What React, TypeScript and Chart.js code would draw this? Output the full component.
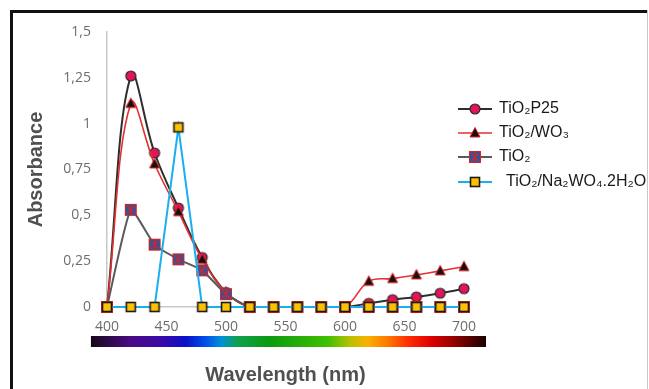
import React, { useEffect, useRef } from "react";
import { Chart, registerables } from "chart.js";

Chart.register(...registerables);

// ---------- data ----------
const WAVELENGTHS = [400, 420, 440, 460, 480, 500, 520, 540, 560, 580, 600, 620, 640, 660, 680, 700];
const TIO2_P25 = [0, 1.26, 0.84, 0.54, 0.27, 0.08, 0, 0, 0, 0, 0, 0.02, 0.04, 0.055, 0.075, 0.1];
const TIO2_WO3 = [0, 1.11, 0.78, 0.52, 0.26, 0.08, 0, 0, 0, 0, 0, 0.14, 0.155, 0.175, 0.197, 0.22];
const TIO2 = [0, 0.53, 0.34, 0.26, 0.2, 0.07, 0, 0, 0, 0, 0, 0, 0, 0, 0, 0];
const TIO2_NA2WO4 = [0, 0, 0, 0.98, 0, 0, 0, 0, 0, 0, 0, 0, 0, 0, 0, 0];

const SERIES_NAMES = ["TiO₂P25", "TiO₂/WO₃", "TiO₂", "TiO₂/Na₂WO₄.2H₂O"];
const X_TICK_VALUES = [400, 450, 500, 550, 600, 650, 700];
const Y_TICK_VALUES = [0, 0.25, 0.5, 0.75, 1, 1.25, 1.5];
const Y_TICK_LABELS = ["0", "0,25", "0,5", "0,75", "1", "1,25", "1,5"];
const X_TITLE = "Wavelength (nm)";
const Y_TITLE = "Absorbance";

// visible spectrum band under the axis (in nm)
const SPECTRUM_NM = [386.5, 718.5];
const SPECTRUM_STOPS: [number, string][] = [
  [0.0, "#150818"],
  [0.1, "#4b0a84"],
  [0.18, "#3a0aa8"],
  [0.24, "#0a10c8"],
  [0.29, "#0050e8"],
  [0.33, "#0090d8"],
  [0.37, "#10a050"],
  [0.45, "#0a9a10"],
  [0.6, "#40c000"],
  [0.66, "#c0c000"],
  [0.7, "#f8b000"],
  [0.75, "#ff7a00"],
  [0.8, "#ff3000"],
  [0.86, "#e00000"],
  [0.92, "#900000"],
  [1.0, "#1a0000"],
];

type MarkerKind = "circle" | "triangle" | "xsquare" | "square";

function drawMarker(ctx: CanvasRenderingContext2D, kind: MarkerKind, cx: number, cy: number) {
  ctx.save();
  if (kind === "circle") {
    ctx.beginPath();
    ctx.arc(cx, cy, 5, 0, Math.PI * 2);
    ctx.fillStyle = "#e3145a";
    ctx.fill();
    ctx.lineWidth = 1.2;
    ctx.strokeStyle = "#2a2a2a";
    ctx.stroke();
  } else if (kind === "triangle") {
    ctx.beginPath();
    ctx.moveTo(cx, cy - 5.5);
    ctx.lineTo(cx + 5, cy + 4);
    ctx.lineTo(cx - 5, cy + 4);
    ctx.closePath();
    ctx.fillStyle = "#111";
    ctx.fill();
    ctx.lineWidth = 1;
    ctx.strokeStyle = "#e02020";
    ctx.stroke();
  } else if (kind === "xsquare") {
    ctx.fillStyle = "#1f5aa8";
    ctx.fillRect(cx - 5.5, cy - 5.5, 11, 11);
    ctx.lineWidth = 1;
    ctx.strokeStyle = "#e02020";
    ctx.strokeRect(cx - 5.5, cy - 5.5, 11, 11);
    ctx.beginPath();
    ctx.moveTo(cx - 4, cy - 4);
    ctx.lineTo(cx + 4, cy + 4);
    ctx.moveTo(cx + 4, cy - 4);
    ctx.lineTo(cx - 4, cy + 4);
    ctx.moveTo(cx, cy - 5);
    ctx.lineTo(cx, cy + 5);
    ctx.lineWidth = 1.2;
    ctx.stroke();
  } else {
    ctx.fillStyle = "#ffc000";
    ctx.fillRect(cx - 4.5, cy - 4.5, 9, 9);
    ctx.lineWidth = 1.6;
    ctx.strokeStyle = "#1a1a1a";
    ctx.strokeRect(cx - 4.5, cy - 4.5, 9, 9);
  }
  ctx.restore();
}

function makeMarker(kind: MarkerKind): HTMLCanvasElement {
  const c = document.createElement("canvas");
  c.width = 16;
  c.height = 16;
  const ctx = c.getContext("2d")!;
  drawMarker(ctx, kind, 8, 8);
  return c;
}

const SERIES_STYLE = [
  { color: "#2e2e2e", width: 2, tension: 0.4, marker: "circle" as MarkerKind, order: 3 },
  { color: "#e33030", width: 1.6, tension: 0.4, marker: "triangle" as MarkerKind, order: 2 },
  { color: "#5a5a5a", width: 2, tension: 0.15, marker: "xsquare" as MarkerKind, order: 1 },
  { color: "#1ab0ee", width: 2, tension: 0, marker: "square" as MarkerKind, order: 0 },
];
const SERIES_VALUES = [TIO2_P25, TIO2_WO3, TIO2, TIO2_NA2WO4];

const decorPlugin = {
  id: "decor",
  beforeDraw(chart: any) {
    const { ctx, width, height } = chart;
    ctx.save();
    ctx.fillStyle = "#ffffff";
    ctx.fillRect(0, 0, width, height);
    // outer frame
    ctx.fillStyle = "#111";
    ctx.fillRect(10, 10, 3, height - 10);
    ctx.fillRect(10, 10, width - 12, 3);
    ctx.fillStyle = "#c8c8c8";
    ctx.fillRect(width - 2, 10, 1, height - 10);
    ctx.restore();
  },
  afterDraw(chart: any) {
    const { ctx, chartArea } = chart;
    const xs = chart.scales.x;
    // spectrum band
    const x0 = xs.getPixelForValue(SPECTRUM_NM[0]);
    const x1 = xs.getPixelForValue(SPECTRUM_NM[1]);
    const g = ctx.createLinearGradient(x0, 0, x1, 0);
    SPECTRUM_STOPS.forEach(([t, c]) => g.addColorStop(t, c));
    ctx.save();
    ctx.fillStyle = g;
    ctx.fillRect(x0, chartArea.bottom + 29, x1 - x0, 11);
    ctx.restore();

    // legend
    ctx.save();
    const lx0 = 458;
    const lx1 = 492;
    const ys = [109, 133, 157, 182];
    SERIES_NAMES.forEach((name, i) => {
      const st = SERIES_STYLE[i];
      const y = ys[i];
      ctx.beginPath();
      ctx.moveTo(lx0, y);
      ctx.lineTo(lx1, y);
      ctx.strokeStyle = st.color;
      ctx.lineWidth = st.width;
      ctx.stroke();
      drawMarker(ctx, st.marker, (lx0 + lx1) / 2, y);
      ctx.font = '16px "Liberation Sans", Arial, sans-serif';
      ctx.fillStyle = "#1a1a1a";
      ctx.textBaseline = "middle";
      ctx.textAlign = "left";
      ctx.fillText(name, i === 3 ? 506 : 499, y);
    });
    ctx.restore();
  },
};

export default function App() {
  const ref = useRef<HTMLCanvasElement | null>(null);

  useEffect(() => {
    if (!ref.current) return;
    const datasets = SERIES_NAMES.map((name, i) => {
      const st = SERIES_STYLE[i];
      const img = makeMarker(st.marker);
      return {
        label: name,
        data: WAVELENGTHS.map((x, j) => ({ x, y: SERIES_VALUES[i][j] })),
        borderColor: st.color,
        backgroundColor: st.color,
        borderWidth: st.width,
        tension: st.tension,
        pointStyle: img,
        pointRadius: 6,
        pointHoverRadius: 6,
        fill: false,
        clip: false,
        order: st.order,
      };
    });

    const tickFont = { family: '"Open Sans", "Noto Sans", sans-serif', size: 14 };
    const titleFont = { family: '"Liberation Sans", Arial, sans-serif', size: 20, weight: "bold" as const };

    const chart = new Chart(ref.current, {
      type: "line",
      data: { datasets: datasets as any },
      plugins: [decorPlugin],
      options: {
        responsive: false,
        animation: false,
        events: [],
        layout: { padding: { left: 0, top: 32, right: 185, bottom: 0 } },
        plugins: {
          legend: { display: false },
          tooltip: { enabled: false },
        },
        scales: {
          x: {
            type: "linear",
            min: 400,
            max: 700,
            afterBuildTicks: (s: any) => {
              s.ticks = X_TICK_VALUES.map((v) => ({ value: v }));
            },
            afterFit: (s: any) => {
              s.height = 82;
            },
            ticks: { font: tickFont, color: "#6d6d6d", padding: 12, maxRotation: 0 },
            grid: { display: false, drawTicks: false },
            border: { display: true, color: "#c8c8c8", width: 1.5 },
            title: {
              display: true,
              text: X_TITLE,
              font: titleFont,
              color: "#505050",
              padding: { top: 0, bottom: 2 },
            },
          },
          y: {
            type: "linear",
            min: 0,
            max: 1.5,
            afterBuildTicks: (s: any) => {
              s.ticks = Y_TICK_VALUES.map((v) => ({ value: v }));
            },
            afterFit: (s: any) => {
              s.width = 107;
            },
            ticks: {
              font: tickFont,
              color: "#6d6d6d",
              padding: 16,
              callback: (v: any) => {
                const idx = Y_TICK_VALUES.indexOf(Number(v));
                return idx >= 0 ? Y_TICK_LABELS[idx] : "";
              },
            },
            grid: { display: false, drawTicks: false },
            border: { display: true, color: "#c8c8c8", width: 1.5 },
            title: {
              display: true,
              text: Y_TITLE,
              font: titleFont,
              color: "#505050",
              padding: { top: 24, bottom: 0 },
            },
          },
        },
      },
    });
    return () => chart.destroy();
  }, []);

  return (
    <div style={{ position: "fixed", left: 0, top: 0, width: 649, height: 389, background: "#fff" }}>
      <canvas ref={ref} width={649} height={389} style={{ display: "block", width: 649, height: 389 }} />
    </div>
  );
}
